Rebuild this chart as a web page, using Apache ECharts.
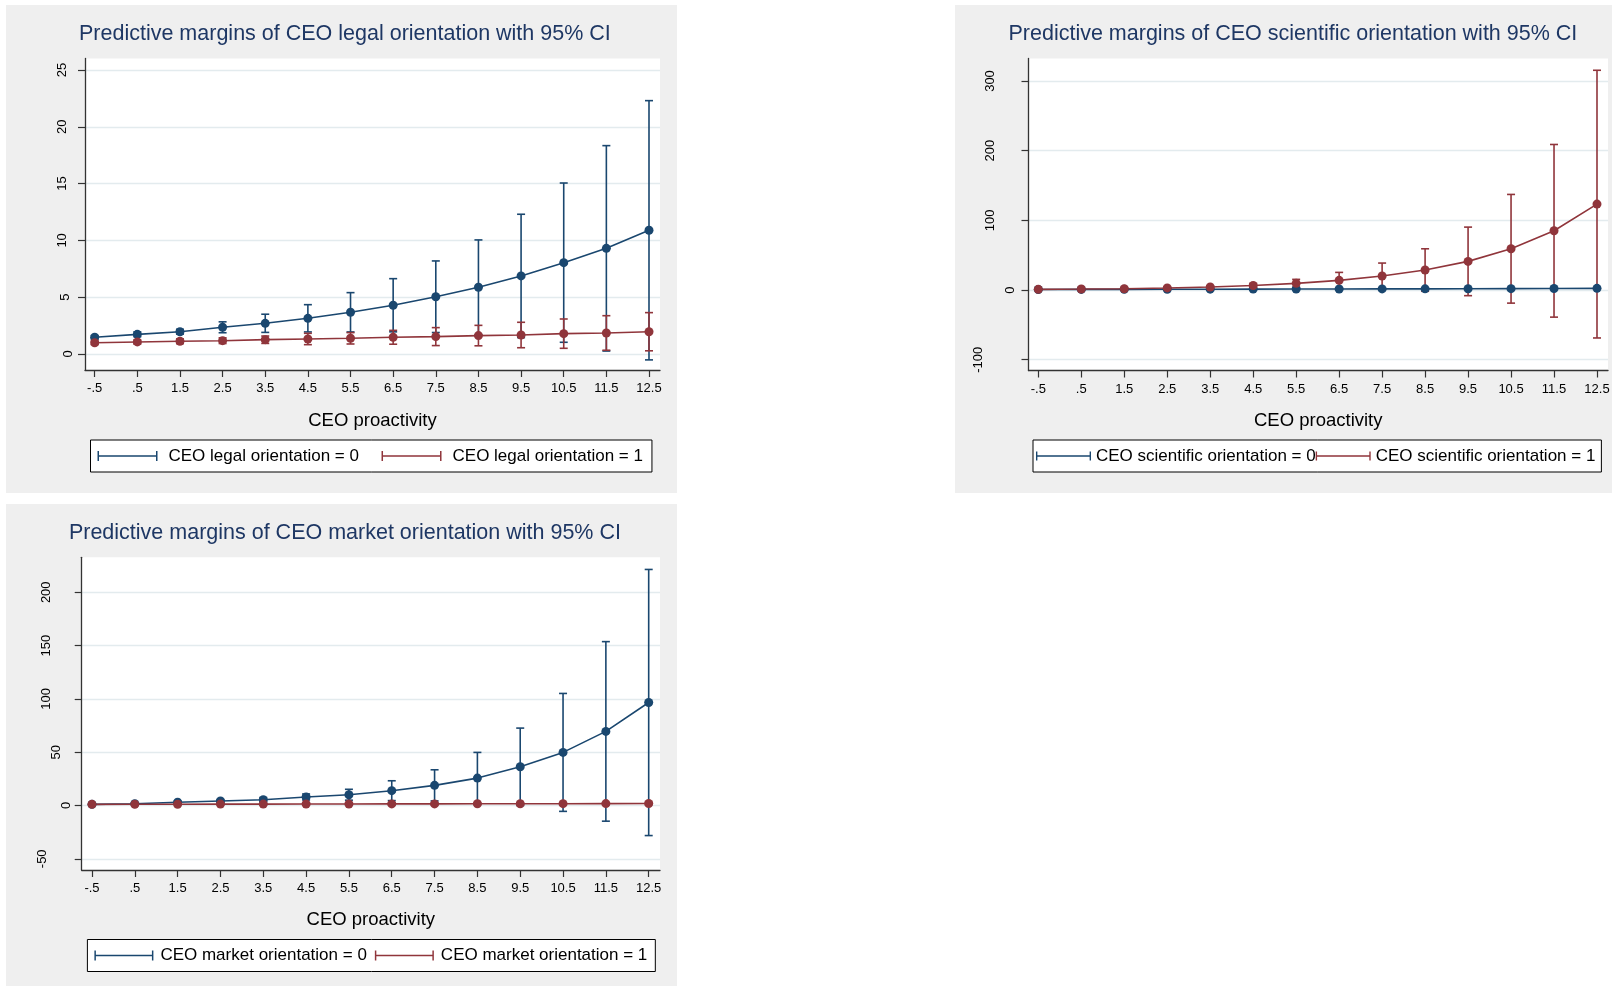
<!DOCTYPE html>
<html>
<head>
<meta charset="utf-8">
<script src="https://cdn.jsdelivr.net/npm/echarts@6/dist/echarts.min.js"></script>
<style>
  html, body { margin: 0; padding: 0; background: #fff; }
  #main { width: 1612px; height: 989px; }
</style>
</head>
<body>
<div id="main"></div>
<script>
// CEO proactivity grid points and their tick labels
const xValues = [-0.5, 0.5, 1.5, 2.5, 3.5, 4.5, 5.5, 6.5, 7.5, 8.5, 9.5, 10.5, 11.5, 12.5]
const xTickLabels = ['-.5', '.5', '1.5', '2.5', '3.5', '4.5', '5.5', '6.5', '7.5', '8.5', '9.5', '10.5', '11.5', '12.5']

// legal orientation
const legalTicks = [0, 5, 10, 15, 20, 25]
const legal0Mean = [1.47, 1.73, 1.96, 2.35, 2.70, 3.14, 3.67, 4.29, 5.04, 5.87, 6.87, 8.04, 9.30, 10.89]
const legal0Low = [1.32, 1.52, 1.75, 1.87, 1.90, 1.94, 1.94, 1.95, 1.89, 1.70, 1.44, 1.03, 0.26, -0.52]
const legal0High = [1.62, 1.94, 2.17, 2.83, 3.50, 4.34, 5.40, 6.63, 8.19, 10.04, 12.30, 15.05, 18.34, 22.30]
const legal1Mean = [0.99, 1.06, 1.12, 1.17, 1.26, 1.32, 1.38, 1.47, 1.53, 1.62, 1.67, 1.79, 1.85, 1.96]
const legal1Low = [0.83, 0.88, 0.91, 0.92, 0.93, 0.82, 0.88, 0.86, 0.74, 0.72, 0.55, 0.50, 0.33, 0.28]
const legal1High = [1.15, 1.24, 1.33, 1.42, 1.58, 1.82, 1.88, 2.08, 2.32, 2.52, 2.79, 3.08, 3.37, 3.64]

// scientific orientation
const scientificTicks = [-100, 0, 100, 200, 300]
const sci0Mean = [0.8, 0.9, 1.0, 1.1, 1.2, 1.3, 1.4, 1.5, 1.6, 1.7, 1.9, 2.0, 2.2, 2.4]
const sci0Low = [0.5, 0.6, 0.7, 0.8, 0.8, 0.9, 0.9, 1.0, 1.0, 1.0, 1.1, 1.1, 1.2, 1.2]
const sci0High = [1.1, 1.2, 1.3, 1.4, 1.6, 1.7, 1.9, 2.0, 2.2, 2.4, 2.7, 2.9, 3.2, 3.6]
const sci1Mean = [1.0, 1.4, 1.9, 3.0, 4.3, 6.5, 9.6, 13.9, 20.1, 28.7, 41.1, 59.2, 85.0, 123.3]
const sci1Low = [0.6, 0.9, 1.2, 2.0, 2.6, 3.8, 3.9, 2.5, 1.5, -1.8, -8.1, -18.8, -38.9, -68.8]
const sci1High = [1.4, 1.9, 2.6, 4.0, 6.0, 9.2, 15.3, 25.3, 38.7, 59.2, 90.3, 137.2, 208.9, 315.4]

// market orientation
const marketTicks = [-50, 0, 50, 100, 150, 200]
const mkt0Mean = [1.1, 1.7, 3.0, 4.2, 5.4, 8.0, 10.1, 13.9, 18.9, 25.7, 36.3, 49.8, 69.5, 96.6]
const mkt0Low = [0.7, 1.1, 2.0, 2.8, 3.4, 5.2, 5.0, 4.6, 4.3, 1.6, 0.0, -5.5, -14.7, -28.2]
const mkt0High = [1.5, 2.3, 4.0, 5.6, 7.4, 10.8, 15.2, 23.2, 33.5, 49.8, 72.6, 105.1, 153.7, 221.4]
const mkt1Mean = [1.1, 1.2, 1.2, 1.3, 1.3, 1.4, 1.4, 1.5, 1.5, 1.6, 1.6, 1.7, 1.8, 1.9]
const mkt1Low = [0.8, 0.9, 0.9, 0.9, 0.9, 0.9, 0.9, 0.9, 0.9, 0.9, 0.9, 0.9, 0.9, 0.9]
const mkt1High = [1.4, 1.5, 1.5, 1.7, 1.7, 1.9, 1.9, 2.1, 2.1, 2.3, 2.3, 2.5, 2.7, 2.9]

const BLUE = "#1a476f"
const RED = "#90353b"
const FONT = "'Liberation Sans', Arial, sans-serif"
// legend key: a line with end caps, like Stata's rcap key
const CAP_ICON = "path://M0,4.2 L60,4.2 L60,5.8 L0,5.8 Z M0,0 L1.5,0 L1.5,10 L0,10 Z M58.5,0 L60,0 L60,10 L58.5,10 Z"

// Stata pushes the rotated y labels out by their length, so each
// label group gets its own distance from the axis
const panels = [
  {
    title: "Predictive margins of CEO legal orientation with 95% CI",
    titlePos: [79, 23.5],
    bg: [6, 5, 671, 488],
    grid: { left: 85, top: 58.5, width: 575, height: 311.5 },
    xRange: [-0.727, 12.758],
    yRange: [-1.41, 26.01],
    yTicks: legalTicks,
    labelMargins: [10, 13.3, 16.5, 16.5, 16.5, 16.5],
    nameGap: 41,
    names: ["CEO legal orientation = 0", "CEO legal orientation = 1"],
    means: [legal0Mean, legal1Mean],
    lows: [legal0Low, legal1Low],
    highs: [legal0High, legal1High],
    legend: { left: 90.5, top: 440, padding: [7.5, 9, 7.5, 7], itemGap: 22.6, itemWidth: 62, textPad: 5 },
  },
  {
    title: "Predictive margins of CEO scientific orientation with 95% CI",
    titlePos: [1008.5, 23.5],
    bg: [955, 5, 657, 488],
    grid: { left: 1028.5, top: 58.5, width: 579.5, height: 312 },
    xRange: [-0.728, 12.756],
    yRange: [-115.5, 332.3],
    yTicks: scientificTicks,
    labelMargins: [44, 11.3, 31.3, 31.3, 31.3],
    nameGap: 41,
    names: ["CEO scientific orientation = 0", "CEO scientific orientation = 1"],
    means: [sci0Mean, sci1Mean],
    lows: [sci0Low, sci1Low],
    highs: [sci0High, sci1High],
    legend: { left: 1033, top: 440, padding: [7.5, 6, 7.5, 3], itemGap: 0, itemWidth: 55, textPad: 0 },
  },
  {
    title: "Predictive margins of CEO market orientation with 95% CI",
    titlePos: [68.9, 522.5],
    bg: [6, 504, 671, 482],
    grid: { left: 81.7, top: 557.3, width: 578.3, height: 312.7 },
    xRange: [-0.74, 12.764],
    yRange: [-60.5, 232.8],
    yTicks: marketTicks,
    labelMargins: [33, 9, 19, 29, 29, 29],
    nameGap: 40,
    names: ["CEO market orientation = 0", "CEO market orientation = 1"],
    means: [mkt0Mean, mkt1Mean],
    lows: [mkt0Low, mkt1Low],
    highs: [mkt0High, mkt1High],
    legend: { left: 87.4, top: 939.5, padding: [7.5, 8, 7.5, 7], itemGap: 8, itemWidth: 59, textPad: 2 },
  },
]

const option = {
  animation: false,
  backgroundColor: "#fff",
  textStyle: { fontFamily: FONT },
  title: [],
  legend: [],
  grid: [],
  xAxis: [],
  yAxis: [],
  series: [],
  graphic: { elements: [] },
}

const colors = [BLUE, RED]
const axisStyle = { color: "#333", width: 1.3 }

panels.forEach((p, i) => {
  option.graphic.elements.push({
    type: "rect",
    z: -100,
    silent: true,
    shape: { x: p.bg[0], y: p.bg[1], width: p.bg[2], height: p.bg[3] },
    style: { fill: "#efefef" },
  })

  option.title.push({
    text: p.title,
    left: p.titlePos[0],
    top: p.titlePos[1],
    padding: 0,
    textStyle: { fontFamily: FONT, fontSize: 21.5, fontWeight: "normal", color: "#1e3764" },
  })

  option.grid.push({
    ...p.grid,
    show: true,
    backgroundColor: "#fff",
    borderWidth: 0,
    outerBoundsMode: "none",
  })

  option.xAxis.push({
    type: "value",
    gridIndex: i,
    min: p.xRange[0],
    max: p.xRange[1],
    name: "CEO proactivity",
    nameLocation: "middle",
    nameGap: p.nameGap,
    nameTextStyle: { fontFamily: FONT, fontSize: 18.5, color: "#000" },
    axisLine: { show: true, onZero: false, lineStyle: axisStyle },
    axisTick: { show: true, length: 7, customValues: xValues, lineStyle: { color: "#333", width: 1.2 } },
    axisLabel: {
      customValues: xValues,
      margin: 12,
      fontSize: 13,
      color: "#000",
      fontFamily: FONT,
      formatter: v => {
        const k = xValues.findIndex(x => Math.abs(x - v) < 1e-6)
        return k >= 0 ? xTickLabels[k] : ""
      },
    },
    splitLine: { show: false },
  })

  // main y axis: line, ticks and grid lines; labels are added per margin group
  const mainY = option.yAxis.length
  option.yAxis.push({
    type: "value",
    gridIndex: i,
    position: "left",
    offset: 0,
    min: p.yRange[0],
    max: p.yRange[1],
    axisLine: { show: true, onZero: false, lineStyle: axisStyle },
    axisTick: { show: true, length: 7, customValues: p.yTicks, lineStyle: { color: "#333", width: 1.2 } },
    axisLabel: { show: false },
    splitLine: { show: true, lineStyle: { color: "#e3ebee", width: 1.3 } },
  })
  const margins = [...new Set(p.labelMargins)]
  margins.forEach(m => {
    const vals = p.yTicks.filter((t, k) => p.labelMargins[k] === m)
    option.yAxis.push({
      type: "value",
      gridIndex: i,
      position: "left",
      offset: 0,
      min: p.yRange[0],
      max: p.yRange[1],
      axisLine: { show: false, onZero: false },
      axisTick: { show: false },
      splitLine: { show: false },
      axisLabel: {
        customValues: vals,
        rotate: 90,
        margin: m,
        fontSize: 13,
        color: "#000",
        fontFamily: FONT,
        formatter: v => String(Math.round(v)),
      },
    })
  })

  // error bars (rcap) first, then the connected margins on top
  for (let s = 0; s < 2; s++) {
    const color = colors[s]
    option.series.push({
      type: "custom",
      xAxisIndex: i,
      yAxisIndex: mainY,
      z: 2,
      data: xValues.map((x, k) => [x, p.lows[s][k], p.highs[s][k]]),
      encode: { x: 0, y: [1, 2] },
      renderItem: (params, api) => {
        const top = api.coord([api.value(0), api.value(2)])
        const bot = api.coord([api.value(0), api.value(1)])
        const c = 4
        const style = { stroke: color, lineWidth: 1.6, fill: null }
        return {
          type: "group",
          children: [
            { type: "line", shape: { x1: top[0], y1: top[1], x2: bot[0], y2: bot[1] }, style },
            { type: "line", shape: { x1: top[0] - c, y1: top[1], x2: top[0] + c, y2: top[1] }, style },
            { type: "line", shape: { x1: bot[0] - c, y1: bot[1], x2: bot[0] + c, y2: bot[1] }, style },
          ],
        }
      },
    })
  }
  for (let s = 0; s < 2; s++) {
    option.series.push({
      type: "line",
      name: p.names[s],
      xAxisIndex: i,
      yAxisIndex: mainY,
      z: 3,
      data: xValues.map((x, k) => [x, p.means[s][k]]),
      symbol: "circle",
      symbolSize: 9,
      showSymbol: true,
      color: colors[s],
      itemStyle: { color: colors[s] },
      lineStyle: { color: colors[s], width: 1.6 },
    })
  }

  option.legend.push({
    data: p.names,
    left: p.legend.left,
    top: p.legend.top,
    orient: "horizontal",
    padding: p.legend.padding,
    itemGap: p.legend.itemGap,
    itemWidth: p.legend.itemWidth,
    itemHeight: 10,
    icon: CAP_ICON,
    selectedMode: false,
    backgroundColor: "#fff",
    borderColor: "#000",
    borderWidth: 1,
    borderRadius: 0,
    textStyle: {
      fontFamily: FONT,
      fontSize: 17,
      color: "#000",
      padding: [0, 0, 0, p.legend.textPad],
    },
  })
})

const myChart = echarts.init(document.getElementById("main"))
myChart.setOption(option)
</script>
</body>
</html>
